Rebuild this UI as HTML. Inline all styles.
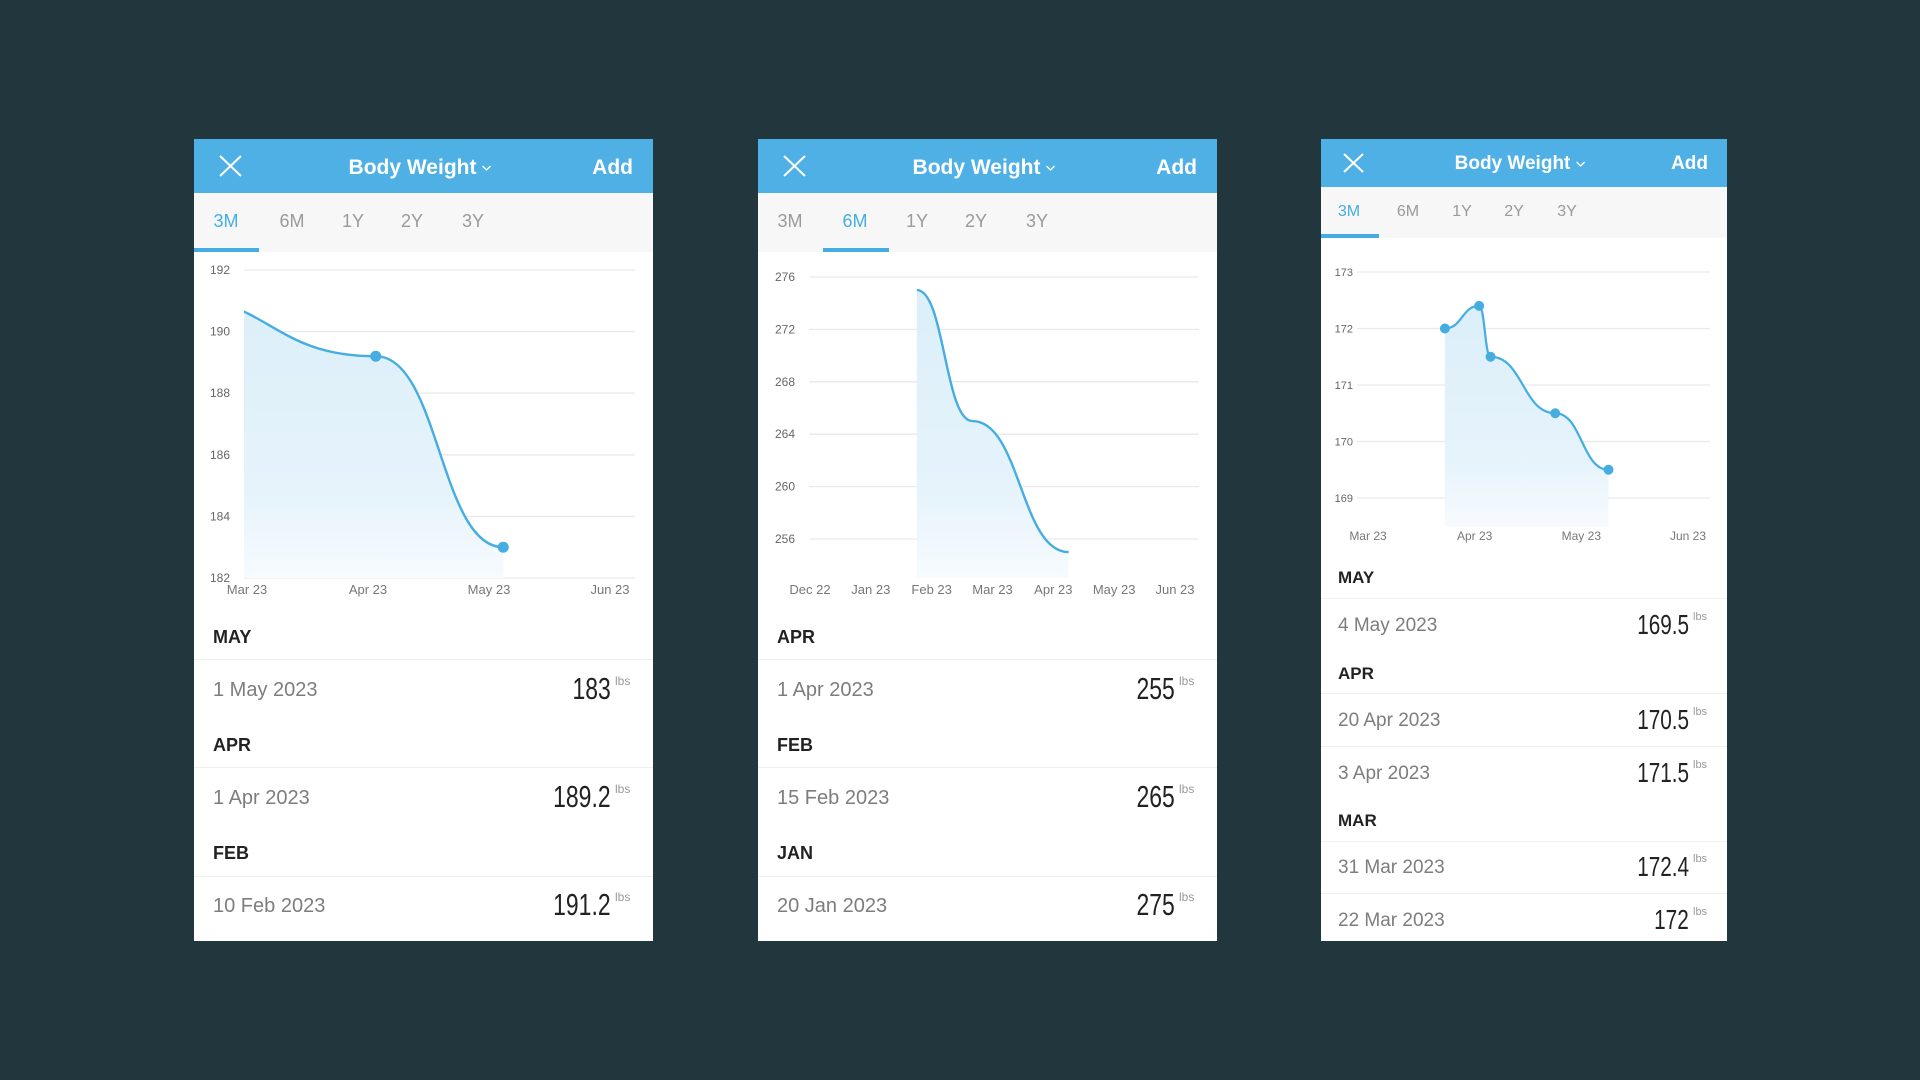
<!DOCTYPE html>
<html><head><meta charset="utf-8">
<style>
html,body{margin:0;padding:0;width:1920px;height:1080px;background:#22373d;overflow:hidden;font-family:"Liberation Sans",sans-serif;}
.panel{position:absolute;top:139px;height:802px;background:#fff;overflow:hidden;}
.hdr{position:absolute;left:0;top:0;width:100%;background:#4fb0e6;}
.t{position:absolute;white-space:nowrap;line-height:1;}
.title{color:#fff;font-weight:bold;transform:translateX(-50%);display:flex;align-items:center;gap:5px;}
.add{color:#fff;font-weight:bold;}
.tabs{position:absolute;left:0;width:100%;background:#f7f7f7;}
.tab{color:#9a9a9a;transform:translateX(-50%);}
.tab.on{color:#45ade2;}
.ul{position:absolute;left:0;background:#45ade2;height:4px;}
.sec{color:#222;font-weight:bold;}
.date{color:#7d7d7d;}
.val{color:#222;transform:scaleX(0.74);transform-origin:right center;}
.lbs{color:#999;}
.sep{position:absolute;left:0;width:100%;height:1px;background:#efefef;}
svg#charts{position:absolute;left:0;top:0;pointer-events:none;}
</style></head>
<body>
<!-- PANEL 1 -->
<div class="panel" style="left:194px;width:459px;">
  <div class="hdr" style="height:54px;">
    <svg style="position:absolute;left:25px;top:16px" width="23" height="22"><path d="M1 1L22 21M22 1L1 21" stroke="#fff" stroke-width="2"/></svg>
    <div class="t title" style="left:226px;top:18px;font-size:21px;">Body Weight<svg width="10" height="6"><path d="M1 1L5 5L9 1" stroke="#fff" fill="none" stroke-width="1.3"/></svg></div>
    <div class="t add" style="right:20px;top:18px;font-size:21px;">Add</div>
  </div>
  <div class="tabs" style="top:54px;height:59px;">
    <div class="t tab on" style="left:32px;top:19px;font-size:18px;">3M</div>
    <div class="t tab" style="left:98px;top:19px;font-size:18px;">6M</div>
    <div class="t tab" style="left:159px;top:19px;font-size:18px;">1Y</div>
    <div class="t tab" style="left:218px;top:19px;font-size:18px;">2Y</div>
    <div class="t tab" style="left:279px;top:19px;font-size:18px;">3Y</div>
    <div class="ul" style="left:0;width:65px;top:55px;"></div>
  </div>
  <div class="t sec" style="left:19px;top:489px;font-size:18px;">MAY</div>
  <div class="sep" style="top:520px"></div>
  <div class="t date" style="left:19px;top:541px;font-size:20px;">1 May 2023</div>
  <div class="t val" style="right:42px;top:534px;font-size:31px;">183</div>
  <div class="t lbs" style="left:421px;top:536px;font-size:12px;">lbs</div>
  <div class="t sec" style="left:19px;top:597px;font-size:18px;">APR</div>
  <div class="sep" style="top:628px"></div>
  <div class="t date" style="left:19px;top:649px;font-size:20px;">1 Apr 2023</div>
  <div class="t val" style="right:42px;top:642px;font-size:31px;">189.2</div>
  <div class="t lbs" style="left:421px;top:644px;font-size:12px;">lbs</div>
  <div class="t sec" style="left:19px;top:705px;font-size:18px;">FEB</div>
  <div class="sep" style="top:737px"></div>
  <div class="t date" style="left:19px;top:757px;font-size:20px;">10 Feb 2023</div>
  <div class="t val" style="right:42px;top:750px;font-size:31px;">191.2</div>
  <div class="t lbs" style="left:421px;top:752px;font-size:12px;">lbs</div>
</div>

<!-- PANEL 2 -->
<div class="panel" style="left:758px;width:459px;">
  <div class="hdr" style="height:54px;">
    <svg style="position:absolute;left:25px;top:16px" width="23" height="22"><path d="M1 1L22 21M22 1L1 21" stroke="#fff" stroke-width="2"/></svg>
    <div class="t title" style="left:226px;top:18px;font-size:21px;">Body Weight<svg width="10" height="6"><path d="M1 1L5 5L9 1" stroke="#fff" fill="none" stroke-width="1.3"/></svg></div>
    <div class="t add" style="right:20px;top:18px;font-size:21px;">Add</div>
  </div>
  <div class="tabs" style="top:54px;height:59px;">
    <div class="t tab" style="left:32px;top:19px;font-size:18px;">3M</div>
    <div class="t tab on" style="left:97px;top:19px;font-size:18px;">6M</div>
    <div class="t tab" style="left:159px;top:19px;font-size:18px;">1Y</div>
    <div class="t tab" style="left:218px;top:19px;font-size:18px;">2Y</div>
    <div class="t tab" style="left:279px;top:19px;font-size:18px;">3Y</div>
    <div class="ul" style="left:65px;width:66px;top:55px;"></div>
  </div>
  <div class="t sec" style="left:19px;top:489px;font-size:18px;">APR</div>
  <div class="sep" style="top:520px"></div>
  <div class="t date" style="left:19px;top:541px;font-size:20px;">1 Apr 2023</div>
  <div class="t val" style="right:42px;top:534px;font-size:31px;">255</div>
  <div class="t lbs" style="left:421px;top:536px;font-size:12px;">lbs</div>
  <div class="t sec" style="left:19px;top:597px;font-size:18px;">FEB</div>
  <div class="sep" style="top:628px"></div>
  <div class="t date" style="left:19px;top:649px;font-size:20px;">15 Feb 2023</div>
  <div class="t val" style="right:42px;top:642px;font-size:31px;">265</div>
  <div class="t lbs" style="left:421px;top:644px;font-size:12px;">lbs</div>
  <div class="t sec" style="left:19px;top:705px;font-size:18px;">JAN</div>
  <div class="sep" style="top:737px"></div>
  <div class="t date" style="left:19px;top:757px;font-size:20px;">20 Jan 2023</div>
  <div class="t val" style="right:42px;top:750px;font-size:31px;">275</div>
  <div class="t lbs" style="left:421px;top:752px;font-size:12px;">lbs</div>
</div>

<!-- PANEL 3 -->
<div class="panel" style="left:1321px;width:406px;">
  <div class="hdr" style="height:48px;">
    <svg style="position:absolute;left:22px;top:14px" width="21" height="20"><path d="M1 1L20 19M20 1L1 19" stroke="#fff" stroke-width="2"/></svg>
    <div class="t title" style="left:199px;top:15px;font-size:19px;">Body Weight<svg width="10" height="6"><path d="M1 1L5 5L9 1" stroke="#fff" fill="none" stroke-width="1.3"/></svg></div>
    <div class="t add" style="right:19px;top:15px;font-size:19px;">Add</div>
  </div>
  <div class="tabs" style="top:48px;height:51px;">
    <div class="t tab on" style="left:28px;top:17px;font-size:16px;">3M</div>
    <div class="t tab" style="left:87px;top:17px;font-size:16px;">6M</div>
    <div class="t tab" style="left:141px;top:17px;font-size:16px;">1Y</div>
    <div class="t tab" style="left:193px;top:17px;font-size:16px;">2Y</div>
    <div class="t tab" style="left:246px;top:17px;font-size:16px;">3Y</div>
    <div class="ul" style="left:0;width:58px;top:47px;"></div>
  </div>
  <div class="t sec" style="left:17px;top:430px;font-size:17px;">MAY</div>
  <div class="sep" style="top:459px"></div>
  <div class="t date" style="left:17px;top:477px;font-size:19px;">4 May 2023</div>
  <div class="t val" style="right:38px;top:472px;font-size:28px;">169.5</div>
  <div class="t lbs" style="left:372px;top:473px;font-size:11px;">lbs</div>
  <div class="t sec" style="left:17px;top:526px;font-size:17px;">APR</div>
  <div class="sep" style="top:554px"></div>
  <div class="t date" style="left:17px;top:572px;font-size:19px;">20 Apr 2023</div>
  <div class="t val" style="right:38px;top:567px;font-size:28px;">170.5</div>
  <div class="t lbs" style="left:372px;top:568px;font-size:11px;">lbs</div>
  <div class="sep" style="top:607px"></div>
  <div class="t date" style="left:17px;top:625px;font-size:19px;">3 Apr 2023</div>
  <div class="t val" style="right:38px;top:620px;font-size:28px;">171.5</div>
  <div class="t lbs" style="left:372px;top:621px;font-size:11px;">lbs</div>
  <div class="t sec" style="left:17px;top:673px;font-size:17px;">MAR</div>
  <div class="sep" style="top:702px"></div>
  <div class="t date" style="left:17px;top:719px;font-size:19px;">31 Mar 2023</div>
  <div class="t val" style="right:38px;top:714px;font-size:28px;">172.4</div>
  <div class="t lbs" style="left:372px;top:715px;font-size:11px;">lbs</div>
  <div class="sep" style="top:754px"></div>
  <div class="t date" style="left:17px;top:772px;font-size:19px;">22 Mar 2023</div>
  <div class="t val" style="right:38px;top:767px;font-size:28px;">172</div>
  <div class="t lbs" style="left:372px;top:768px;font-size:11px;">lbs</div>
</div>

<svg id="charts" width="1920" height="1080" xmlns="http://www.w3.org/2000/svg">
  <defs>
    <linearGradient id="fillGrad" x1="0" y1="0" x2="0" y2="1">
      <stop offset="0" stop-color="#dbeffa"/>
      <stop offset="0.7" stop-color="#e6f3fb"/>
      <stop offset="1" stop-color="#f7fbfe"/>
    </linearGradient>
  </defs>
</svg>

<script>
// ---- Chart 1 (3M) ----
const c1Dates = ['2023-02-10', '2023-04-01', '2023-05-01'];
const c1Values = [191.2, 189.2, 183];
const c1YTicks = [192, 190, 188, 186, 184, 182];
const c1XLabels = ['Mar 23', 'Apr 23', 'May 23', 'Jun 23'];
// ---- Chart 2 (6M) ----
const c2Dates = ['2023-01-20', '2023-02-15', '2023-04-01'];
const c2Values = [275, 265, 255];
const c2YTicks = [276, 272, 268, 264, 260, 256];
const c2XLabels = ['Dec 22', 'Jan 23', 'Feb 23', 'Mar 23', 'Apr 23', 'May 23', 'Jun 23'];
// ---- Chart 3 (3M detailed) ----
const c3Dates = ['2023-03-22', '2023-03-31', '2023-04-03', '2023-04-20', '2023-05-04'];
const c3Values = [172, 172.4, 171.5, 170.5, 169.5];
const c3YTicks = [173, 172, 171, 170, 169];
const c3XLabels = ['Mar 23', 'Apr 23', 'May 23', 'Jun 23'];

const NS = 'http://www.w3.org/2000/svg';
const svg = document.getElementById('charts');
function day(s){return Date.parse(s+'T00:00:00Z')/86400000;}
function mk(tag, attrs){const e=document.createElementNS(NS,tag);for(const k in attrs)e.setAttribute(k,attrs[k]);return e;}

function drawChart(cfg, dates, values, yTicks, xLabels){
  const g = mk('g',{});
  
  
  svg.appendChild(g);
  const d0=day(cfg.xDomain[0]), d1=day(cfg.xDomain[1]);
  const x = d => cfg.xRange[0] + (day(d)-d0)/(d1-d0)*(cfg.xRange[1]-cfg.xRange[0]);
  const y = v => cfg.yRange[0] + (v-cfg.yDomain[0])/(cfg.yDomain[1]-cfg.yDomain[0])*(cfg.yRange[1]-cfg.yRange[0]);
  // gridlines + y labels
  yTicks.forEach(v=>{
    const ln = mk('line',{x1:cfg.gridX[0],x2:cfg.gridX[1],y1:y(v),y2:y(v),stroke:'#e9e9e9','stroke-width':1.3});
    
    
    g.appendChild(ln);
    const t = mk('text',{x:cfg.yLabelX,y:y(v)+4,'text-anchor':'end','font-size':cfg.yFont,fill:'#666','font-family':'Liberation Sans, sans-serif'});
    t.textContent = v;
    
    
    g.appendChild(t);
  });
  // x labels
  xLabels.forEach((lab,i)=>{
    const px = cfg.xLabelSpan[0] + i*(cfg.xLabelSpan[1]-cfg.xLabelSpan[0])/(xLabels.length-1);
    const t = mk('text',{x:px,y:cfg.xLabelY,'text-anchor':'middle','font-size':cfg.xFont,fill:'#777','font-family':'Liberation Sans, sans-serif'});
    t.textContent = lab;
    
    
    g.appendChild(t);
  });
  // curve
  const pts = dates.map((d,i)=>[x(d), y(values[i])]);
  let path = 'M'+pts[0][0]+','+pts[0][1];
  for(let i=1;i<pts.length;i++){
    const [ax,ay]=pts[i-1],[bx,by]=pts[i]; const mx=(ax+bx)/2;
    path += ' C'+mx+','+ay+' '+mx+','+by+' '+bx+','+by;
  }
  const clipId = cfg.name+'-clip';
  const cp = mk('clipPath',{id:clipId});
  cp.appendChild(mk('rect',{x:cfg.xRange[0],y:0,width:cfg.xRange[1]-cfg.xRange[0],height:1080}));
  svg.querySelector('defs').appendChild(cp);
  const last = pts[pts.length-1], first = pts[0];
  const area = mk('path',{d:path+' L'+last[0]+','+cfg.base+' L'+first[0]+','+cfg.base+' Z',fill:'url(#fillGrad)','clip-path':'url(#'+clipId+')'});
  
  
  g.appendChild(area);
  const line = mk('path',{d:path,fill:'none',stroke:'#45ade2','stroke-width':cfg.lw,'clip-path':'url(#'+clipId+')'});
  
  
  g.appendChild(line);
  if(cfg.dots){
    pts.forEach(p=>{
      if(p[0] < cfg.xRange[0]) return;
      const c = mk('circle',{cx:p[0],cy:p[1],r:cfg.r,fill:'#45ade2'});
      
      
      g.appendChild(c);
    });
  }
}

drawChart({name:'chart-3m', xDomain:['2023-03-01','2023-06-01'], xRange:[244,635], yDomain:[182,192], yRange:[578,270],
  gridX:[244,635], yLabelX:230, yFont:12, xLabelSpan:[247,610], xLabelY:594, xFont:13, base:578, dots:true, r:5.5, lw:2.4},
  c1Dates, c1Values, c1YTicks, c1XLabels);
drawChart({name:'chart-6m', xDomain:['2022-12-01','2023-06-01'], xRange:[810,1199], yDomain:[256,276], yRange:[539,277],
  gridX:[809,1199], yLabelX:795, yFont:12, xLabelSpan:[810,1175], xLabelY:594, xFont:13, base:578, dots:false, r:5, lw:2.4},
  c2Dates, c2Values, c2YTicks, c2XLabels);
drawChart({name:'chart-3m-detailed', xDomain:['2023-03-01','2023-06-01'], xRange:[1365,1715], yDomain:[169,173], yRange:[498,272],
  gridX:[1357,1710], yLabelX:1353, yFont:11, xLabelSpan:[1368,1688], xLabelY:540, xFont:12, base:527, dots:true, r:5, lw:2.2},
  c3Dates, c3Values, c3YTicks, c3XLabels);
</script>
</body></html>
